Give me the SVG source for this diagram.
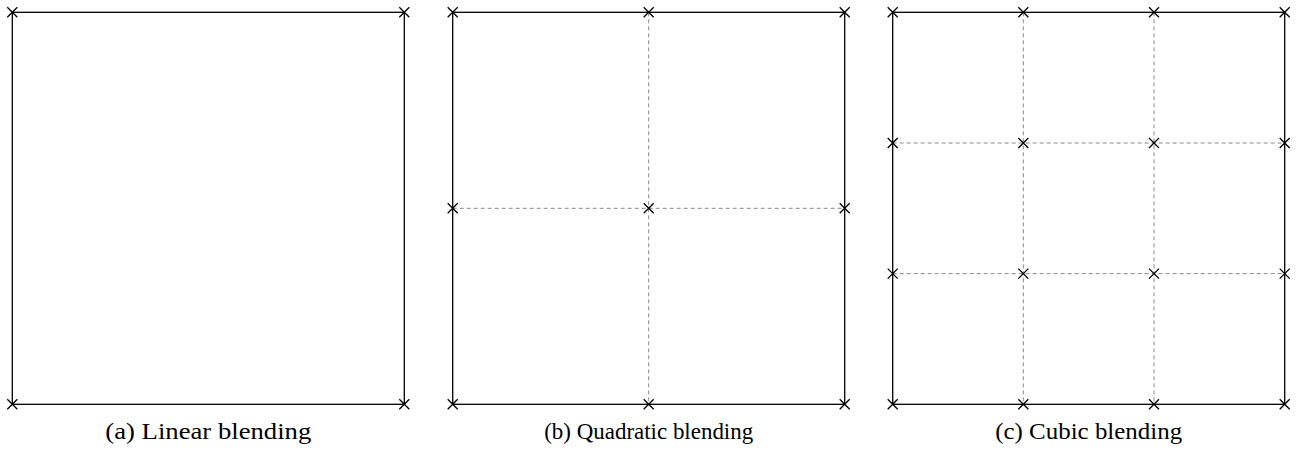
<svg xmlns="http://www.w3.org/2000/svg" width="1303" height="450" viewBox="0 0 1303 450">
<style>
.frame{fill:none;stroke:#000;stroke-width:1.3}
.grid{fill:none;stroke:#888;stroke-width:1;stroke-dasharray:4 3}
.mk{stroke:#000;stroke-width:1.3;fill:none}
.cap{font-family:"Liberation Serif","DejaVu Serif",serif;font-size:23px;fill:#000;text-anchor:middle}
</style>
<defs>
<path id="x" class="mk" d="M-5,-5L5,5M-5,5L5,-5"/>
</defs>
<g id="connectors">
<line class="grid" x1="648.7" y1="12.3" x2="648.7" y2="404.3"/>
<line class="grid" x1="452.7" y1="208.3" x2="844.7" y2="208.3"/>
<line class="grid" x1="1023.3" y1="12.3" x2="1023.3" y2="404.3"/>
<line class="grid" x1="1154" y1="12.3" x2="1154" y2="404.3"/>
<line class="grid" x1="892.7" y1="143" x2="1284.7" y2="143"/>
<line class="grid" x1="892.7" y1="273.6" x2="1284.7" y2="273.6"/>
</g>
<g id="panel-a">
<rect class="frame" x="12.3" y="12.3" width="392" height="392"/>
<use href="#x" x="12.3" y="12.3"/><use href="#x" x="404.3" y="12.3"/>
<use href="#x" x="12.3" y="404.3"/><use href="#x" x="404.3" y="404.3"/>
<text class="cap" x="208.3" y="439" textLength="206" lengthAdjust="spacingAndGlyphs">(a) Linear blending</text>
</g>
<g id="panel-b">
<rect class="frame" x="452.7" y="12.3" width="392" height="392"/>
<use href="#x" x="452.7" y="12.3"/><use href="#x" x="648.7" y="12.3"/><use href="#x" x="844.7" y="12.3"/>
<use href="#x" x="452.7" y="208.3"/><use href="#x" x="648.7" y="208.3"/><use href="#x" x="844.7" y="208.3"/>
<use href="#x" x="452.7" y="404.3"/><use href="#x" x="648.7" y="404.3"/><use href="#x" x="844.7" y="404.3"/>
<text class="cap" x="648.7" y="439" textLength="209" lengthAdjust="spacingAndGlyphs">(b) Quadratic blending</text>
</g>
<g id="panel-c">
<rect class="frame" x="892.7" y="12.3" width="392" height="392"/>
<use href="#x" x="892.7" y="12.3"/><use href="#x" x="1023.3" y="12.3"/><use href="#x" x="1154" y="12.3"/><use href="#x" x="1284.7" y="12.3"/>
<use href="#x" x="892.7" y="143"/><use href="#x" x="1023.3" y="143"/><use href="#x" x="1154" y="143"/><use href="#x" x="1284.7" y="143"/>
<use href="#x" x="892.7" y="273.6"/><use href="#x" x="1023.3" y="273.6"/><use href="#x" x="1154" y="273.6"/><use href="#x" x="1284.7" y="273.6"/>
<use href="#x" x="892.7" y="404.3"/><use href="#x" x="1023.3" y="404.3"/><use href="#x" x="1154" y="404.3"/><use href="#x" x="1284.7" y="404.3"/>
<text class="cap" x="1088.7" y="439" textLength="187" lengthAdjust="spacingAndGlyphs">(c) Cubic blending</text>
</g>
</svg>
